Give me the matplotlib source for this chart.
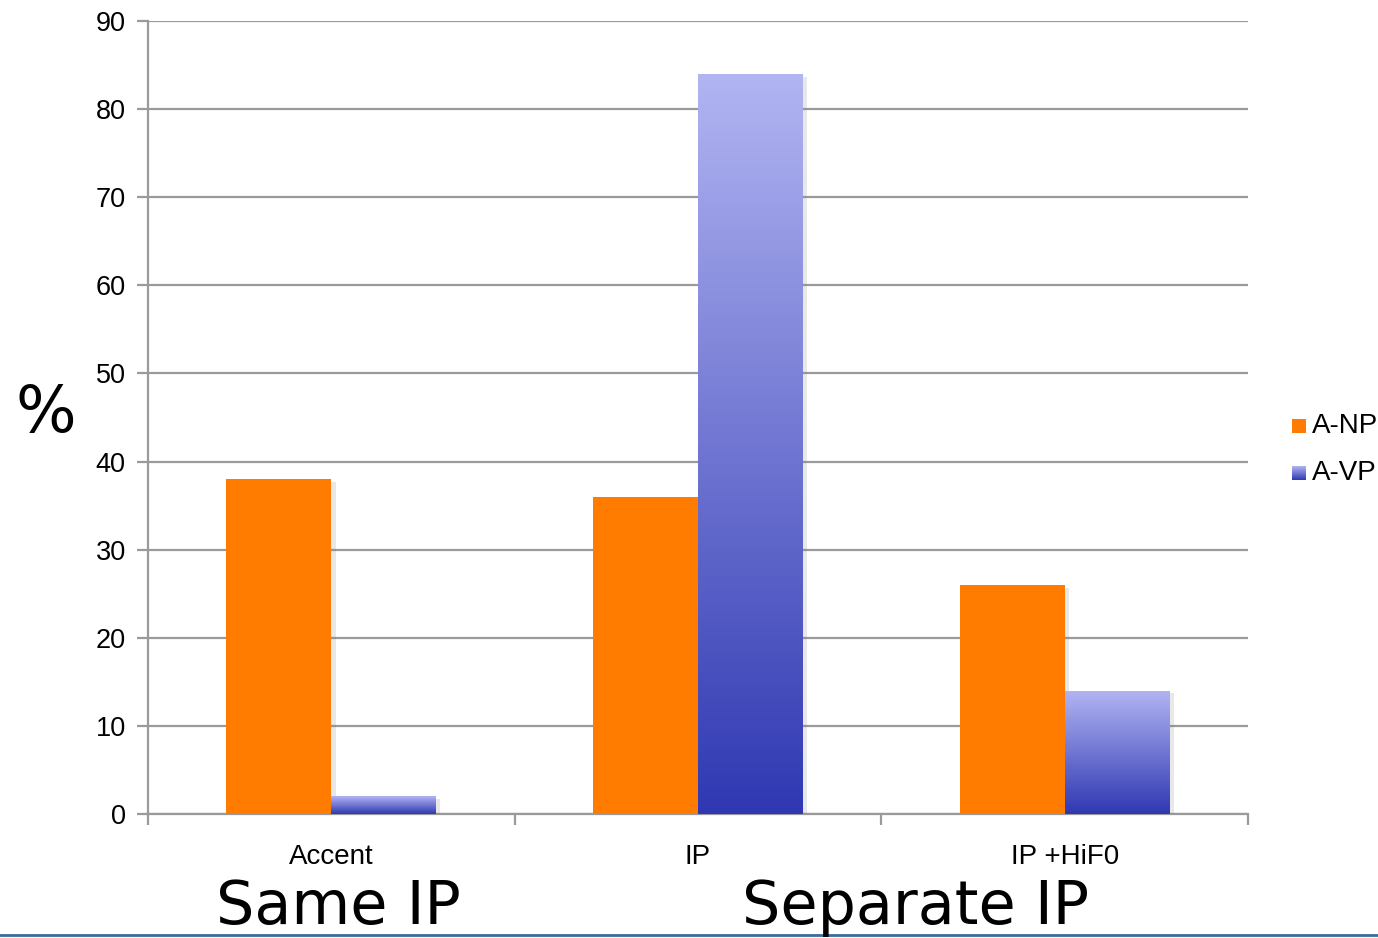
import numpy as np
import matplotlib
matplotlib.use("Agg")
import matplotlib.pyplot as plt
from matplotlib.lines import Line2D
from matplotlib.patches import Rectangle
from matplotlib.colors import LinearSegmentedColormap
import matplotlib.patheffects as pe

categories = ["Accent", "IP", "IP +HiF0"]
a_np = [38, 36, 26]
a_vp = [2, 84, 14]
y_ticks = [0, 10, 20, 30, 40, 50, 60, 70, 80, 90]
series_names = ["A-NP", "A-VP"]

orange = "#FF7C00"
blue_top = "#B2B5F2"
blue_bottom = "#2F38B2"
grad_cmap = LinearSegmentedColormap.from_list("bluegrad", [blue_bottom, blue_top])

plt.rcParams["font.family"] = ["Liberation Sans", "DejaVu Sans"]

fig = plt.figure(figsize=(13.78, 9.38), dpi=100)
ax = fig.add_axes([0.1074, 0.1322, 0.7983, 0.8454])

x = np.arange(len(categories))
width = 0.286
shadow = [pe.SimplePatchShadow(offset=(3, -2), shadow_rgbFace="0.5", alpha=0.18), pe.Normal()]

b1 = ax.bar(x - width / 2, a_np, width, color=orange, zorder=3, path_effects=shadow)
b2 = ax.bar(x + width / 2, a_vp, width, color=blue_bottom, zorder=3, path_effects=shadow)

# vertical gradient fill for the A-VP bars
grad = np.linspace(0, 1, 256).reshape(-1, 1)
for rect in b2:
    x0, y0 = rect.get_x(), rect.get_y()
    w, h = rect.get_width(), rect.get_height()
    im = ax.imshow(grad, cmap=grad_cmap, origin="lower", aspect="auto",
                   extent=(x0, x0 + w, y0, y0 + h), zorder=4)
    im.set_clip_path(rect)

ax.set_xlim(-0.5, len(categories) - 0.5)
ax.set_ylim(0, 90)
ax.set_yticks(y_ticks)
ax.set_xticks(np.arange(len(categories) + 1) - 0.5)
ax.set_xticklabels([])
for xi, name in zip(x, categories):
    ax.text(xi, -4.9, name, ha="center", va="center", fontsize=20)

ax.yaxis.grid(True, color="#9a9a9a", linewidth=1.6, zorder=0)
ax.set_axisbelow(True)
for s in ["top", "right"]:
    ax.spines[s].set_visible(False)
for s in ["left", "bottom"]:
    ax.spines[s].set_color("#9a9a9a")
    ax.spines[s].set_linewidth(1.6)
ax.tick_params(axis="both", color="#9a9a9a", width=1.6, length=8, labelsize=19.5, pad=8)

# legend drawn as figure artists
leg_x = 1292 / 1378
sq_w, sq_h = 14 / 1378, 14 / 938
for i, (name, yy) in enumerate(zip(series_names, [426, 473])):
    fy = 1 - yy / 938
    if i == 0:
        fig.add_artist(Rectangle((leg_x, fy - sq_h / 2), sq_w, sq_h, transform=fig.transFigure,
                                 facecolor=orange, edgecolor="none"))
    else:
        kax = fig.add_axes([leg_x, fy - sq_h / 2, sq_w, sq_h])
        kax.imshow(grad, cmap=grad_cmap, origin="lower", aspect="auto")
        kax.set_axis_off()
    fig.text(leg_x + 20 / 1378, fy, name, ha="left", va="center", fontsize=20)

fig.text(46 / 1378, 1 - 414 / 938, "%", ha="center", va="center", fontsize=46, family="DejaVu Sans")
fig.text(338 / 1378, 1 - 907 / 938, "Same IP", ha="center", va="center", fontsize=43.5, family="DejaVu Sans")
fig.text(916 / 1378, 1 - 907 / 938, "Separate IP", ha="center", va="center", fontsize=43.5, family="DejaVu Sans")

fig.add_artist(Line2D([0, 1], [1 - 935 / 938] * 2, transform=fig.transFigure,
                      color="#3A6C9C", linewidth=2))

fig.savefig("out.png", dpi=100)
